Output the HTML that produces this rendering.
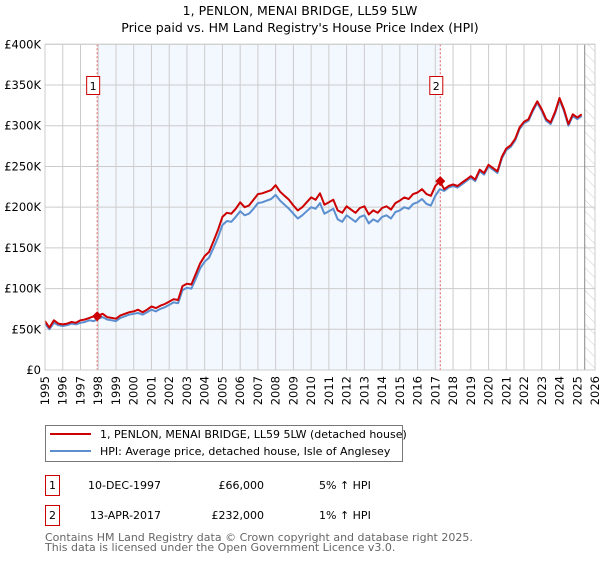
<!DOCTYPE html>
<html><head><meta charset="utf-8">
<style>
html,body{margin:0;padding:0;background:#fff;}
body{width:600px;height:560px;overflow:hidden;font-family:"DejaVu Sans","Liberation Sans",sans-serif;}
svg text{font-family:"DejaVu Sans","Liberation Sans",sans-serif;}
</style></head>
<body>
<svg id="chart" width="600" height="560" viewBox="0 0 600 560" xmlns="http://www.w3.org/2000/svg">
  <defs>
    <pattern id="hatch" width="8" height="8" patternUnits="userSpaceOnUse" patternTransform="rotate(-45)">
      <line x1="0" y1="0" x2="0" y2="8" stroke="#ccc" stroke-width="1"/>
    </pattern>
  </defs>
  <text x="300" y="15" text-anchor="middle" font-size="12.5" fill="#000">1, PENLON, MENAI BRIDGE, LL59 5LW</text>
  <text x="300" y="32" text-anchor="middle" font-size="12.5" fill="#000">Price paid vs. HM Land Registry's House Price Index (HPI)</text>
  <g id="plot"></g>
  <g>
    <rect x="45.5" y="425.5" width="357" height="36" fill="#fff" stroke="#777"/>
    <line x1="50" y1="434" x2="91" y2="434" stroke="#cc0000" stroke-width="2"/>
    <text x="100" y="438" font-size="11">1, PENLON, MENAI BRIDGE, LL59 5LW (detached house)</text>
    <line x1="50" y1="451" x2="91" y2="451" stroke="#5b8fd0" stroke-width="2"/>
    <text x="100" y="455" font-size="11">HPI: Average price, detached house, Isle of Anglesey</text>
  </g>
  <g font-size="11">
    <rect x="45.5" y="475.5" width="14" height="20" fill="#fff" stroke="#cc0000"/>
    <text x="52.5" y="489" text-anchor="middle">1</text>
    <text x="88" y="489">10-DEC-1997</text>
    <text x="264" y="489" text-anchor="end">£66,000</text>
    <text x="319" y="489">5% ↑ HPI</text>
    <rect x="45.5" y="505.5" width="14" height="20" fill="#fff" stroke="#cc0000"/>
    <text x="52.5" y="519" text-anchor="middle">2</text>
    <text x="90" y="519">13-APR-2017</text>
    <text x="264" y="519" text-anchor="end">£232,000</text>
    <text x="319" y="519">1% ↑ HPI</text>
  </g>
  <text x="45" y="541" font-size="11" fill="#666">Contains HM Land Registry data © Crown copyright and database right 2025.</text>
  <text x="45" y="551" font-size="11" fill="#666">This data is licensed under the Open Government Licence v3.0.</text>
</svg>
<script>
const startYear = 1995;
const hpiValues = [
57,50,58,55, 54,55,57,56, 58,59,61,60, 63,65,62,61, 60,64,66,68,
69,70,68,71, 74,72,75,77, 80,83,82,98, 101,100,112,125, 133,138,150,163,
178,183,182,188, 195,190,192,198, 205,206,208,210, 215,208,203,198, 192,186,190,195,
200,198,205,192, 195,198,185,182, 190,186,182,188, 190,180,185,182, 188,190,186,194,
196,200,198,204, 206,210,204,202, 214,222,220,224, 226,224,228,232, 236,232,244,240,
250,246,242,260, 270,274,282,296, 303,306,318,328, 318,306,302,315, 332,318,300,312,
308,312];
const propertyValues = [
60,52,61,57, 56,57,59,58, 61,62,64,66, 67,69,65,64, 63,67,69,71,
72,74,71,74, 78,76,79,81, 84,87,86,103, 106,105,118,131, 140,145,158,172,
188,193,192,198, 206,200,202,209, 216,217,219,221, 227,219,214,209, 202,196,200,206,
212,209,217,203, 206,209,196,193, 201,197,193,199, 201,191,196,193, 199,201,197,205,
208,212,210,216, 218,222,216,214, 226,232,222,226, 228,226,230,234, 238,234,246,242,
252,248,244,262, 272,276,284,298, 305,308,320,330, 320,308,304,317, 334,320,302,314,
310,314];
const yTicks = [0,50,100,150,200,250,300,350,400];
const yTickLabels = ["£0","£50K","£100K","£150K","£200K","£250K","£300K","£350K","£400K"];
const xYears = [1995,1996,1997,1998,1999,2000,2001,2002,2003,2004,2005,2006,2007,2008,2009,2010,2011,2012,2013,2014,2015,2016,2017,2018,2019,2020,2021,2022,2023,2024,2025,2026];
const saleDates = [1997.94, 2017.28];
const salePrices = [66, 232];
const saleLabels = ["1","2"];
const dataEnd = 2025.42;

const L=45,R=595,T=44.3,B=370;
const xS = y => L + (y-1995)/(2026-1995)*(R-L);
const yS = v => B - v/400*(B-T);
const NS="http://www.w3.org/2000/svg";
const g=document.getElementById('plot');
function mk(tag,attrs,parent){const e=document.createElementNS(NS,tag);for(const k in attrs)e.setAttribute(k,attrs[k]);(parent||g).appendChild(e);return e;}

const bg=mk('rect',{x:L,y:T,width:R-L,height:B-T,fill:'#fff'});


const shade=mk('rect',{x:xS(saleDates[0]),y:T,width:xS(saleDates[1])-xS(saleDates[0]),height:B-T,fill:'#eef3fd',opacity:0.7});


const hatch=mk('rect',{x:xS(dataEnd),y:T,width:R-xS(dataEnd),height:B-T,fill:'url(#hatch)'});



yTicks.forEach((v,i)=>{
  const ln=mk('line',{x1:L,x2:R,y1:yS(v),y2:yS(v),stroke:'#ccc','stroke-width':1});
  
  
  const t=mk('text',{x:L-4,y:yS(v)+4,'text-anchor':'end','font-size':11.5,fill:'#000'});
  t.textContent=yTickLabels[i];
  
  
});
xYears.forEach(yr=>{
  const x=xS(yr);
  const ln=mk('line',{x1:x,x2:x,y1:T,y2:B,stroke:'#ccc','stroke-width':1});
  
  
  const t=mk('text',{x:0,y:0,'text-anchor':'end','font-size':11.5,fill:'#000',transform:`translate(${x+4},${B+6}) rotate(-90)`});
  t.textContent=yr;
  
  
});
const endLine=mk('line',{x1:xS(dataEnd),x2:xS(dataEnd),y1:T,y2:B,stroke:'#888','stroke-width':1});



saleDates.forEach((d,i)=>{
  const x=xS(d);
  const v=mk('line',{x1:x,x2:x,y1:T,y2:B,stroke:'#e06060','stroke-width':1,'stroke-dasharray':'2,2'});
  
  
  const r=mk('rect',{x:x-10.5,y:76.5,width:13,height:18,fill:'#fff',stroke:'#cc0000'});
  
  
  const t=mk('text',{x:x-4,y:90,'text-anchor':'middle','font-size':11});
  t.textContent=saleLabels[i];
  
  
});

function series(vals,color,name){
  const pts=vals.map((v,i)=>xS(startYear+i*0.25).toFixed(1)+','+yS(v).toFixed(1)).join(' ');
  const p=mk('polyline',{points:pts,fill:'none',stroke:color,'stroke-width':2,'stroke-linejoin':'round'});
  
  
}
series(hpiValues,'#5b8fd0','hpi-line');
series(propertyValues,'#cc0000','property-line');

saleDates.forEach((d,i)=>{
  const x=xS(d),y=yS(salePrices[i]);
  const m=mk('path',{d:`M${x} ${y-5}L${x+5} ${y}L${x} ${y+5}L${x-5} ${y}Z`,fill:'#cc0000'});
  
  
});
const frame=mk('rect',{x:L,y:T,width:R-L,height:B-T,fill:'none',stroke:'#ccc'});


</script>
</body></html>
